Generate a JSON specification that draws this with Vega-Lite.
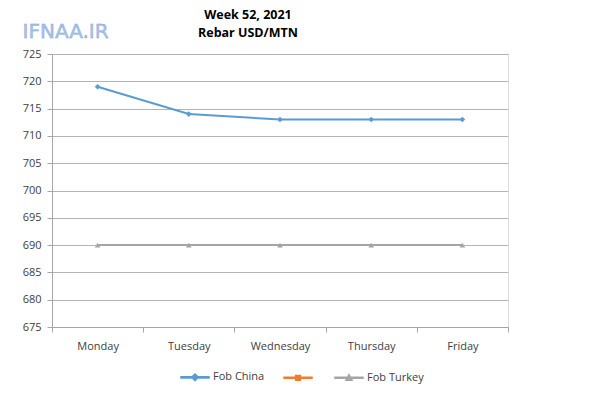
{
  "$schema": "https://vega.github.io/schema/vega-lite/v6.json",
  "width": 456,
  "height": 273,
  "autosize": "none",
  "padding": {"left": 52, "top": 54, "right": 92, "bottom": 71},
  "background": "white",
  "title": {
    "text": ["Week 52, 2021", "Rebar USD/MTN"],
    "font": "Open Sans",
    "fontSize": 12.5,
    "fontWeight": "bold",
    "color": "#000000",
    "anchor": "middle",
    "frame": "group",
    "dx": -32,
    "offset": -17,
    "lineHeight": 18
  },
  "data": {
    "values": [
      {"day": "Monday", "series": "Fob China", "value": 719},
      {"day": "Tuesday", "series": "Fob China", "value": 714},
      {"day": "Wednesday", "series": "Fob China", "value": 713},
      {"day": "Thursday", "series": "Fob China", "value": 713},
      {"day": "Friday", "series": "Fob China", "value": 713},
      {"day": "Monday", "series": "Fob Turkey", "value": 690},
      {"day": "Tuesday", "series": "Fob Turkey", "value": 690},
      {"day": "Wednesday", "series": "Fob Turkey", "value": 690},
      {"day": "Thursday", "series": "Fob Turkey", "value": 690},
      {"day": "Friday", "series": "Fob Turkey", "value": 690}
    ]
  },
  "layer": [
    {
      "encoding": {
        "x": {
          "field": "day",
          "type": "nominal",
          "sort": ["Monday", "Tuesday", "Wednesday", "Thursday", "Friday"],
          "scale": {"type": "band", "paddingInner": 0, "paddingOuter": 0},
          "axis": {
            "title": null,
            "labelAngle": 0,
            "tickBand": "extent",
            "grid": false,
            "domainColor": "#a6a6a6",
            "tickColor": "#a6a6a6",
            "tickSize": 5,
            "labelPadding": 8,
            "labelFont": "Open Sans",
            "labelFontSize": 11,
            "labelColor": "#404040"
          }
        },
        "y": {
          "field": "value",
          "type": "quantitative",
          "scale": {"domain": [675, 725], "nice": false, "zero": false},
          "axis": {
            "title": null,
            "values": [675, 680, 685, 690, 695, 700, 705, 710, 715, 720, 725],
            "grid": true,
            "gridColor": "#b3b3b3",
            "domainColor": "#a6a6a6",
            "tickColor": "#a6a6a6",
            "tickSize": 5,
            "labelPadding": 6,
            "labelFont": "Open Sans",
            "labelFontSize": 11,
            "labelColor": "#404040"
          }
        },
        "color": {
          "field": "series",
          "type": "nominal",
          "scale": {"domain": ["Fob China", " ", "Fob Turkey"], "range": ["#5b9bd5", "#ed7d31", "#a5a5a5"]},
          "legend": {
            "title": null,
            "orient": "none",
            "direction": "horizontal",
            "legendX": 128,
            "legendY": 308,
            "labelFont": "Open Sans",
            "labelFontSize": 11,
            "labelColor": "#404040",
            "labelOffset": 3,
            "symbolSize": 784,
            "columnPadding": 16,
            "labelExpr": "datum.label == ' ' ? '' : datum.label"
          }
        }
      },
      "layer": [
        {
          "mark": {"type": "line", "strokeWidth": 2}
        },
        {
          "transform": [{"filter": "datum.series == 'Fob China'"}],
          "mark": {"type": "point", "shape": "diamond", "filled": true, "opacity": 1, "size": 32}
        },
        {
          "transform": [{"filter": "datum.series == 'Fob Turkey'"}],
          "mark": {"type": "point", "shape": "triangle-up", "filled": true, "opacity": 1, "size": 32}
        },
        {
          "data": {"values": []},
          "mark": {"type": "point", "filled": true, "opacity": 1},
          "encoding": {
            "shape": {
              "field": "series",
              "type": "nominal",
              "scale": {
                "domain": ["Fob China", " ", "Fob Turkey"],
                "range": [
                  "M-1,-0.04H1V0.04H-1Z M0,-0.24L0.24,0L0,0.24L-0.24,0Z",
                  "M-1,-0.04H1V0.04H-1Z M-0.17,-0.17H0.17V0.17H-0.17Z",
                  "M-1,-0.04H1V0.04H-1Z M0,-0.22L0.22,0.18L-0.22,0.18Z"
                ]
              }
            }
          }
        }
      ]
    },
    {
      "data": {"values": [{"label": "IFNAA.IR"}]},
      "mark": {
        "type": "text",
        "font": "DejaVu Sans",
        "fontSize": 20,
        "color": "#a9c5e8",
        "stroke": "#7aa0d0",
        "strokeWidth": 0.4,
        "align": "center",
        "baseline": "middle",
        "dx": -32,
        "dy": -22
      },
      "encoding": {
        "x": {
          "datum": "Monday",
          "type": "nominal",
          "axis": {
            "title": null,
            "labelAngle": 0,
            "tickBand": "extent",
            "grid": false,
            "domainColor": "#a6a6a6",
            "tickColor": "#a6a6a6",
            "tickSize": 5,
            "labelPadding": 8,
            "labelFont": "Open Sans",
            "labelFontSize": 11,
            "labelColor": "#404040"
          }
        },
        "y": {
          "datum": 725,
          "type": "quantitative",
          "axis": {
            "title": null,
            "values": [675, 680, 685, 690, 695, 700, 705, 710, 715, 720, 725],
            "grid": true,
            "gridColor": "#b3b3b3",
            "domainColor": "#a6a6a6",
            "tickColor": "#a6a6a6",
            "tickSize": 5,
            "labelPadding": 6,
            "labelFont": "Open Sans",
            "labelFontSize": 11,
            "labelColor": "#404040"
          }
        },
        "text": {"field": "label"}
      }
    }
  ]
}
